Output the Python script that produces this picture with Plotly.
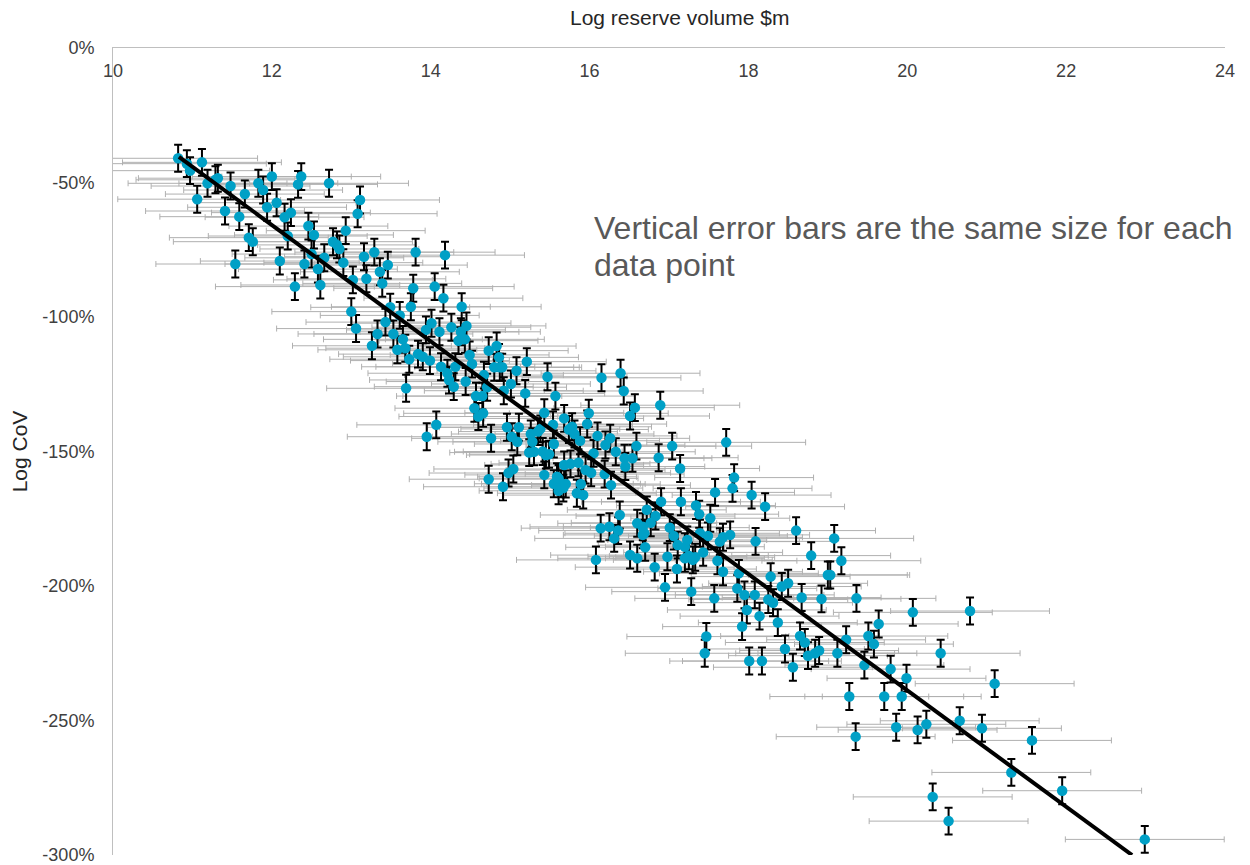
import plotly.graph_objects as go

# Log reserve volume ($m) and Log CoV (%)
log_volume = [
    10.82, 10.93, 11.12, 10.97, 11.19, 11.32, 11.29, 11.48, 11.06, 11.41, 11.59, 11.66, 11.83, 11.89, 12.00,
    11.94, 12.06, 12.16, 12.24, 12.33, 12.37, 12.72, 12.46, 12.53, 12.20, 11.71, 11.76, 11.54, 12.10, 12.41,
    12.29, 12.58, 12.61, 12.66, 12.77, 12.82, 12.85, 12.90, 12.93, 12.50, 13.00, 13.08, 13.02,
    13.11, 13.16, 13.29, 13.46, 13.36, 13.39, 13.19, 13.06, 13.26, 13.33, 13.43, 13.49, 13.61, 13.53, 13.65,
    13.58, 13.68, 13.73, 13.69, 13.81, 14.18, 13.78, 14.05, 13.75, 14.16, 13.94, 14.01, 14.11, 14.26, 13.84,
    13.90, 13.99, 14.13, 14.21, 14.23, 14.29, 14.31,
    14.39, 14.38, 14.45, 14.35, 14.43, 14.49, 14.52, 14.73, 14.83, 14.86, 14.80, 14.87, 14.90, 14.67, 14.44,
    14.71, 14.57, 14.65, 14.55, 14.60, 14.66, 14.07, 13.95, 14.76, 14.92, 15.01, 15.08, 15.21, 15.47, 15.19,
    15.57, 14.96, 15.11, 15.02, 15.09, 15.26, 15.35, 15.38, 15.28, 15.43, 15.55, 15.24, 15.30, 15.41, 15.45,
    15.49, 14.98, 15.04, 14.73, 15.43,
    14.91, 16.15, 16.39, 16.43, 16.57, 16.51, 15.68, 15.99, 15.97, 15.54, 15.74, 15.78, 15.81, 15.88, 16.10,
    16.26, 16.20, 16.33, 16.05, 16.44, 16.54, 16.45, 16.59, 15.68, 15.76, 15.86, 15.95, 16.02, 15.89, 16.19,
    16.27, 15.84, 15.92, 15.64, 15.67, 15.59, 16.38, 16.14, 16.25, 16.72, 16.60, 16.67, 16.77,
    16.89, 17.72, 17.04, 16.87, 17.14, 17.82, 17.80, 17.58, 18.04, 15.55, 15.61, 15.70, 15.61, 16.90, 17.15,
    17.34, 17.38, 17.52, 16.83, 16.69, 16.36, 16.31, 16.51, 16.70, 17.01, 17.06, 17.11, 17.20, 17.23, 17.39,
    17.49, 17.64, 17.68, 17.77, 18.09, 17.43, 16.98, 17.20, 16.08,
    18.21, 18.60, 19.08, 18.79, 19.17, 19.00, 19.03, 19.36, 17.61, 17.68, 17.88, 17.86, 17.95, 18.08, 17.98,
    17.92, 18.14, 18.28, 18.42, 18.50, 18.25, 18.31, 18.37, 18.67, 18.92, 17.47, 18.65, 19.23, 17.28, 17.57,
    16.95, 16.82, 17.10, 17.25, 17.30, 17.33, 16.60, 16.67,
    20.07, 20.42, 19.64, 19.51, 19.58, 19.12, 19.46, 19.79, 19.99, 18.71, 18.46, 18.75, 18.84, 18.89, 18.56,
    18.01, 18.17, 17.45,
    20.79, 21.10, 19.27, 19.71, 19.93, 19.86, 20.13, 20.24, 20.66, 20.94, 19.35, 21.57, 21.31,
    21.95, 20.52, 22.99, 20.32,
]
log_cov = [
    -41.0, -43.0, -42.5, -45.6, -50.3, -48.4, -49.0, -51.3, -56.2, -60.6, -62.7, -54.3, -50.3, -52.8, -47.8,
    -59.2, -57.5, -62.9, -61.2, -50.7, -47.8, -50.3, -66.2, -69.5, -69.9, -70.5, -72.0, -80.3, -79.2, -80.3,
    -88.7, -82.2, -88.1, -78.0, -72.0, -73.2, -74.7, -79.8, -67.9, -76.6, -98.0, -61.6, -86.2,
    -56.5, -77.6, -75.9, -80.7, -83.2, -87.5, -85.8, -104.3, -110.7, -106.3, -101.9, -96.4, -99.4, -106.3, -108.3,
    -112.2, -111.6, -115.7, -126.5, -75.9, -77.0, -89.3, -88.7, -96.2, -93.0, -104.8, -102.3, -105.5, -103.8, -113.8,
    -114.8, -116.2, -118.5, -120.9, -123.4, -125.9, -118.5,
    -96.2, -105.5, -103.3, -108.8, -108.3, -114.1, -117.5, -112.5, -110.8, -115.0, -118.7, -118.7, -118.7, -121.6, -124.0,
    -126.1, -129.4, -129.4, -133.9, -137.0, -135.8, -140.1, -144.5, -145.1, -127.4, -124.9, -120.0, -116.6, -122.2, -128.4,
    -129.4, -141.0, -141.0, -144.5, -146.4, -143.5, -142.6, -141.6, -146.4, -135.6, -147.2, -150.4, -150.1, -150.0, -151.3,
    -151.0, -158.0, -156.5, -160.3, -158.7,
    -163.1, -122.6, -120.9, -127.5, -133.7, -136.8, -137.7, -135.8, -139.8, -140.1, -141.8, -140.8, -143.5, -146.0, -144.2,
    -145.1, -147.6, -150.1, -150.7, -152.5, -152.5, -155.6, -148.0, -155.0, -154.6, -154.2, -156.9, -157.9, -162.1, -158.4,
    -162.5, -165.5, -166.2, -162.0, -163.6, -159.4, -173.6, -178.5, -178.0, -171.7, -176.7, -178.0, -176.5,
    -132.8, -146.6, -148.0, -152.3, -156.3, -159.7, -163.7, -165.2, -166.2, -162.0, -160.0, -162.1, -164.6, -168.7, -168.7,
    -170.1, -173.3, -174.8, -174.0, -180.4, -179.4, -182.3, -188.5, -185.6, -178.3, -181.4, -184.8, -185.4, -182.9, -180.4,
    -181.4, -183.5, -181.9, -181.0, -183.4, -187.5, -189.1, -189.7, -190.3,
    -170.5, -179.4, -182.3, -188.7, -190.6, -195.9, -195.9, -204.6, -190.6, -194.7, -195.3, -200.9, -203.3, -203.3, -208.9,
    -215.1, -211.2, -196.5, -200.2, -199.0, -205.0, -206.2, -213.6, -204.3, -204.8, -218.8, -218.6, -220.0, -202.1, -204.6,
    -200.5, -193.0, -193.7, -188.8, -190.3, -189.3, -189.7, -181.0,
    -209.8, -225.0, -214.1, -218.6, -221.6, -225.0, -229.4, -230.9, -234.3, -221.0, -223.4, -225.9, -225.0, -224.0, -230.2,
    -227.9, -227.9, -225.0,
    -209.3, -236.3, -241.1, -241.1, -241.1, -252.5, -253.5, -251.4, -250.1, -252.9, -256.0, -257.4, -269.3,
    -276.1, -287.4, -294.2, -278.4,
]

x_error = 1.0    # horizontal error (log units)
y_error = 5.0    # vertical error (%)

# Fitted trend line end points
trend_x = [10.83, 22.83]
trend_y = [-40.5, -300.0]

y_tick_values = [0, -50, -100, -150, -200, -250, -300]
y_tick_labels = ["0%", "-50%", "-100%", "-150%", "-200%", "-250%", "-300%"]
x_tick_values = [10, 12, 14, 16, 18, 20, 22, 24]

x_title = "Log reserve volume $m"
y_title = "Log CoV"
note_lines = ["Vertical error bars are the same size for each", "data point"]

FONT = "Liberation Sans, Arial, sans-serif"

fig = go.Figure()

# Horizontal (grey) error bars
fig.add_trace(go.Scatter(
    x=log_volume, y=log_cov, mode="markers",
    marker=dict(color="rgba(0,0,0,0)", size=1),
    error_x=dict(type="constant", value=x_error, color="#B0B0B0", thickness=1, width=3),
    hoverinfo="skip", showlegend=False,
))

# Points with vertical (black) error bars
fig.add_trace(go.Scatter(
    x=log_volume, y=log_cov, mode="markers",
    marker=dict(color="#00A0C6", size=10.5),
    error_y=dict(type="constant", value=y_error, color="#000000", thickness=2, width=4),
    showlegend=False,
))

# Trend line
fig.add_trace(go.Scatter(
    x=trend_x, y=trend_y, mode="lines",
    line=dict(color="#000000", width=4),
    showlegend=False,
))

# Note, one annotation per line (paper coords: plot area 113..1225 px, 48..855 px)
note_y = [0.7764, 0.7305]
for line, yy in zip(note_lines, note_y):
    fig.add_annotation(
        text=line, xref="paper", yref="paper",
        x=0.4307, y=yy, xanchor="left", yanchor="middle", align="left",
        showarrow=False, font=dict(family=FONT, size=32, color="#595959"),
    )

# X-axis title, above the top axis
fig.add_annotation(
    text=x_title, xref="paper", yref="paper", x=0.509, y=1.0372,
    xanchor="center", yanchor="middle", showarrow=False,
    font=dict(family=FONT, size=21, color="#262626"),
)

fig.update_layout(
    width=1250, height=865,
    margin=dict(l=113, r=25, t=48, b=10),
    paper_bgcolor="white", plot_bgcolor="white",
    font=dict(family=FONT, size=18, color="#404040"),
    xaxis=dict(
        range=[10, 24], side="top", tickvals=x_tick_values, automargin=False,
        ticklabelposition="inside", ticklabeloverflow="allow", ticklabelstandoff=17,
        showgrid=False, zeroline=False, showline=True, linecolor="#BFBFBF", linewidth=1,
        ticks="", tickfont=dict(size=18, color="#404040"),
    ),
    yaxis=dict(
        range=[-300, 0], tickvals=y_tick_values, ticktext=y_tick_labels, automargin=False,
        showgrid=False, zeroline=False, showline=True, linecolor="#BFBFBF", linewidth=1,
        ticks="", ticklabelstandoff=14, tickfont=dict(size=18, color="#404040"),
        ticklabeloverflow="allow",
        title=dict(text=y_title, font=dict(size=21, color="#262626"), standoff=9),
    ),
)

fig.write_html("out.html")
